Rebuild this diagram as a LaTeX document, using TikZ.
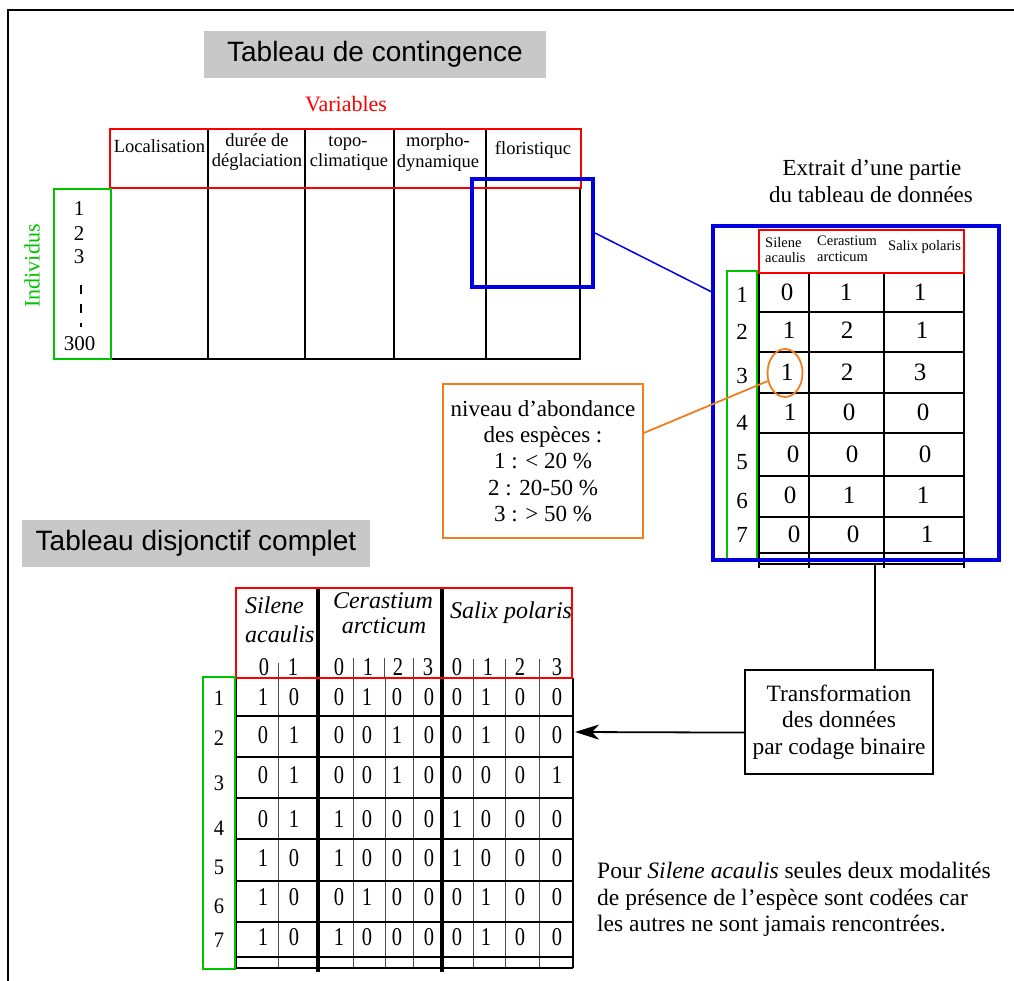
\documentclass[tikz,border=0pt]{standalone}
\usepackage{graphicx}
\usepackage{fontspec}
\setmainfont{Liberation Serif}
\newfontfamily\arialf{Liberation Sans}
\usetikzlibrary{calc,arrows.meta,shapes.geometric}
\definecolor{myred}{RGB}{250,0,0}
\definecolor{mygreen}{RGB}{0,195,0}
\definecolor{myblue}{RGB}{0,0,225}
\definecolor{myorange}{RGB}{240,125,30}
\definecolor{mygray}{RGB}{200,200,200}
\newcommand{\fsz}[1]{\fontsize{#1pt}{#1pt}\selectfont}
\newcommand{\tallnum}[1]{\scalebox{1}[1.25]{#1}}
\begin{document}
\begin{tikzpicture}[x=1pt,y=-1pt,
  txt/.style={inner sep=0pt, anchor=base},
  txtl/.style={inner sep=0pt, anchor=base west},
  gridline/.style={line width=1.8pt, black},
  thinline/.style={line width=1pt, black!70},
  thickline/.style={line width=3.6pt, black},
  redbox/.style={draw=myred, line width=1.8pt},
  greenbox/.style={draw=mygreen, line width=1.8pt},
  bluebox/.style={draw=myblue, line width=4pt},
  titlebox/.style={fill=mygray, inner sep=0pt, font=\arialf\fsz{28}},
  framebox/.style={draw=black, line width=1.8pt, inner sep=0pt, align=center},
]
\useasboundingbox (0,0) rectangle (1014,981);
% outer frame
\draw[line width=1.5pt] (1014,10) -- (8,10) -- (8,981);

% ---------- titles ----------
\node[titlebox, minimum width=342pt, minimum height=47pt] (t1) at (375,54.5) {Tableau de contingence};
\node[titlebox, minimum width=348pt, minimum height=47pt] (t2) at (196,543.5) {Tableau disjonctif complet};

% ---------- contingency table ----------
\node[txt, font=\fsz{22}, text=myred] (var) at (346,112) {Variables};
\foreach \x in {208,305,394,486} \draw[gridline] (\x,129) -- (\x,359);
\draw[gridline] (580,188) -- (580,359);
\draw[gridline] (111,359) -- (581,359);
\draw[redbox] (110,129) rectangle (581,188);
\node[greenbox, minimum width=57pt, minimum height=170pt, inner sep=0pt] (gind) at (82.5,274) {};
\node[font=\fsz{22}, text=mygreen, rotate=90, inner sep=0pt] (ind) at (32,266) {Individus};
\begin{scope}[font=\fsz{18.5}]
\node[txt] (h1) at (159.5,153) {Localisation};
\node[txt] (h2a) at (257,147) {durée de};
\node[txt] (h2b) at (257,167) {déglaciation};
\node[txt] (h3a) at (348,147) {topo-};
\node[txt] (h3b) at (349,167) {climatique};
\node[txt] (h4a) at (438,147) {morpho-};
\node[txt] (h4b) at (438,168) {dynamique};
\node[txt] (h5) at (533,155) {floristiquc};
\end{scope}
\begin{scope}[font=\fsz{21}]
\node[txt] (r1) at (79,216) {1};
\node[txt] (r2) at (79,241) {2};
\node[txt] (r3) at (79,264) {3};
\node[txt] (r300) at (79.5,350) {300};
\end{scope}
\draw[line width=1.6pt, dash pattern=on 9pt off 10pt] (81,285) -- (81,327);
\node[bluebox, minimum width=121pt, minimum height=108pt, inner sep=0pt] (sb) at (532.5,233) {};

% ---------- extract table ----------
\node[txt, font=\fsz{23}] (ex1) at (872,176) {Extrait d’une partie};
\node[txt, font=\fsz{23}] (ex2) at (871,203) {du tableau de données};
\foreach \y in {312,352,393,433,476,517,553,564} \draw[gridline] (759,\y) -- (964,\y);
\foreach \x in {759,809,884,964} \draw[gridline] (\x,273) -- (\x,568);
\draw[redbox] (759,230) rectangle (964,273);
\node[greenbox, minimum width=30pt, minimum height=289pt, inner sep=0pt] (gex) at (742,415.5) {};
\begin{scope}[font=\fsz{14.5}]
\node[txtl] (e1a) at (765,248) {Silene};
\node[txtl] (e1b) at (765,263) {acaulis};
\node[txtl] (e2a) at (817,246) {Cerastium};
\node[txtl] (e2b) at (817,262) {arcticum};
\node[txtl] (e3) at (888,251) {Salix polaris};
\end{scope}
\begin{scope}[font=\fsz{23}]
\foreach \n/\y in {1/303,2/340,3/383,4/430,5/469,6/508,7/542}
  \node[txt] (er\n) at (742,\y) {\n};
\end{scope}
\begin{scope}[font=\fsz{25}]
\foreach \a/\b/\c/\x/\y/\z/\yy/\k in {
  0/1/1/787/846/920/301/1,
  1/2/1/789/847/922/338/2,
  1/2/3/787/847/920/380/3,
  1/0/0/790/849/923/420/4,
  0/0/0/793/852/925/462/5,
  0/1/1/790/849/923/503/6,
  0/0/1/794/853/927/542/7}{
  \node[txt] (ea\k) at (\x,\yy) {\a};
  \node[txt] (eb\k) at (\y,\yy) {\b};
  \node[txt] (ec\k) at (\z,\yy) {\c};
}
\end{scope}
\node[bluebox, minimum width=286pt, minimum height=334pt, inner sep=0pt] (bb) at (856,393) {};
\draw[myblue, line width=1.5pt] (sb.east) -- ($(bb.north west)!0.2!(bb.south west)$);
\node[ellipse, draw=myorange, line width=1.8pt, minimum width=35pt, minimum height=48pt, inner sep=0pt] (oval) at (785,373) {};

% ---------- orange legend ----------
\node[draw=myorange, line width=1.8pt, minimum width=200pt, minimum height=154pt, inner sep=0pt,
  align=center, font=\fontsize{23pt}{26.3pt}\selectfont] (obox) at (543,461)
  {niveau d’abondance\\des espèces :\\1 : < 20 \%\\2 : 20-50 \%\\3 : > 50 \%};
\draw[myorange, line width=1.8pt] (oval.205) -- ($(obox.north east)!0.32!(obox.south east)$);

% ---------- transformation box ----------
\node[framebox, minimum width=188pt, minimum height=104pt, font=\fontsize{23.4pt}{26.5pt}\selectfont] (trans) at (839,722)
  {Transformation\\des données\\par codage binaire};
\coordinate (tbot) at (875,564);
\draw[line width=1.8pt] (tbot) -- (tbot |- trans.north);
\coordinate (tip) at (575,732);
\draw[line width=1.8pt, -{Stealth[length=24pt,width=15pt,inset=7pt]}] ($(trans.north west)!0.6!(trans.south west)$) -- (tip);

% ---------- note ----------
\begin{scope}[font=\fsz{23.5}]
\node[txtl] (n1) at (597,878) {Pour \textit{Silene acaulis} seules deux modalités};
\node[txtl] (n2) at (597,905) {de présence de l’espèce sont codées car};
\node[txtl] (n3) at (597,931) {les autres ne sont jamais rencontrées.};
\end{scope}

% ---------- complete disjunctive table ----------
\foreach \x in {278,353,385,413,473,505,539} \draw[thinline] (\x,678) -- (\x,968);
\draw[thinline] (278,663) -- (278,678);
\foreach \x in {353,384,413} \draw[thinline] (\x,658) -- (\x,678);
\foreach \x in {473,505,539} \draw[thinline] (\x,659) -- (\x,678);
\foreach \y in {716,757,798,839,881,922,957} \draw[gridline] (236,\y) -- (573,\y);
\draw[line width=1.4pt] (236,968) -- (573,968);
\draw[gridline] (236,678) -- (236,968);
\draw[gridline] (573,678) -- (573,968);
\draw[thickline] (318,588) -- (318,972);
\draw[thickline] (442,588) -- (442,972);
\draw[redbox] (236,588) rectangle (572,678);
\node[greenbox, minimum width=32pt, minimum height=292pt, inner sep=0pt] (gdc) at (219,823) {};
\begin{scope}[font=\itshape\fsz{24}]
\node[txtl] (d1a) at (245,613) {Silene};
\node[txtl] (d1b) at (245,642) {acaulis};
\node[txt] (d2a) at (383,608) {Cerastium};
\node[txt] (d2b) at (384,633) {arcticum};
\node[txt] (d3) at (511,618) {Salix polaris};
\end{scope}
\begin{scope}[font=\fsz{20.5}]
\foreach \v/\x/\k in {0/264/a,1/293/b,0/339/c,1/368/d,2/398/e,3/428/f,0/457/g,1/488/h,2/520/i,3/557/j}
  \node[txt] (s\k) at (\x,675) {\tallnum{\v}};
\foreach \n/\y in {1/705,2/745,3/790,4/835,5/874,6/913,7/947}
  \node[txt] (dr\n) at (219,\y) {\scalebox{1}[1.08]{\n}};
\foreach \row/\y/\vals in {
  1/705/{1,0,0,1,0,0,0,1,0,0},
  2/743/{0,1,0,0,1,0,0,1,0,0},
  3/783/{0,1,0,0,1,0,0,0,0,1},
  4/827/{0,1,1,0,0,0,1,0,0,0},
  5/866/{1,0,1,0,0,0,1,0,0,0},
  6/905/{1,0,0,1,0,0,0,1,0,0},
  7/945/{1,0,1,0,0,0,0,1,0,0}}{
  \foreach \v [count=\c] in \vals {
    \pgfmathsetmacro{\xx}{{263,294,339,367,397,429,457,486,520,557}[\c-1]}
    \node[txt] (v\row-\c) at (\xx,\y) {\tallnum{\v}};
  }
}
\end{scope}
\end{tikzpicture}
\end{document}
